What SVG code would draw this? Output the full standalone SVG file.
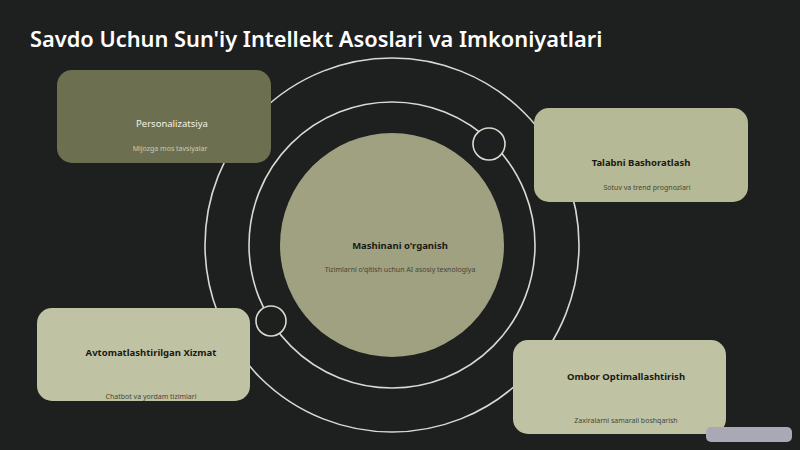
<svg xmlns="http://www.w3.org/2000/svg" width="800" height="450" viewBox="0 0 800 450">
<style>
.ring{fill:none;stroke:#d9d9d2;stroke-width:1.6}
.dot{fill:#1e1f1f;stroke:#d9d9d2;stroke-width:1.6}
.t{font-family:"Noto Sans","Open Sans",sans-serif;font-weight:700;font-size:9.5px;text-anchor:middle}
.s{font-family:"Noto Sans","Open Sans",sans-serif;font-size:7px;text-anchor:middle}
.dark{fill:#1a1a14}
.subd{fill:#45473a}
</style>
<rect width="800" height="450" fill="#1e1f1f"/>
<text x="30" y="47" font-family="'Noto Sans','Open Sans',sans-serif" font-weight="600" font-size="21.8" fill="#ffffff">Savdo Uchun Sun'iy Intellekt Asoslari va Imkoniyatlari</text>
<g id="connectors">
<circle class="ring" cx="392" cy="245" r="187"/>
<circle class="ring" cx="392" cy="245" r="143"/>
</g>
<g id="center">
<circle cx="392" cy="245" r="112" fill="#9fa180"/>
<text class="t dark" x="400" y="249">Mashinani o'rganish</text>
<text class="s subd" x="400" y="272">Tizimlarni o'qitish uchun AI asosiy texnologiya</text>
</g>
<g id="dot1"><circle class="dot" cx="489" cy="144" r="16"/></g>
<g id="dot2"><circle class="dot" cx="271" cy="321" r="15"/></g>
<g id="personalizatsiya">
<rect x="57" y="70" width="214" height="93" rx="15" fill="#6d7050"/>
<text class="t" x="172" y="127" fill="#f2f2ea" style="font-weight:400">Personalizatsiya</text>
<text class="s" x="170" y="151" fill="#c8c9b8">Mijozga mos tavsiyalar</text>
</g>
<g id="talab">
<rect x="534" y="108" width="214" height="94" rx="15" fill="#b6b995"/>
<text class="t dark" x="641" y="166">Talabni Bashoratlash</text>
<text class="s subd" x="647" y="190">Sotuv va trend prognozlari</text>
</g>
<g id="avtomat">
<rect x="37" y="308" width="213" height="93" rx="15" fill="#c0c3a3"/>
<text class="t dark" x="151" y="356">Avtomatlashtirilgan Xizmat</text>
<text class="s subd" x="151" y="399">Chatbot va yordam tizimlari</text>
</g>
<g id="ombor">
<rect x="513" y="340" width="213" height="94" rx="15" fill="#c0c3a3"/>
<text class="t dark" x="626" y="380">Ombor Optimallashtirish</text>
<text class="s subd" x="626" y="423">Zaxiralarni samarali boshqarish</text>
</g>
<rect x="706" y="427" width="86" height="15" rx="5" fill="#a9a9b5"/>
</svg>
